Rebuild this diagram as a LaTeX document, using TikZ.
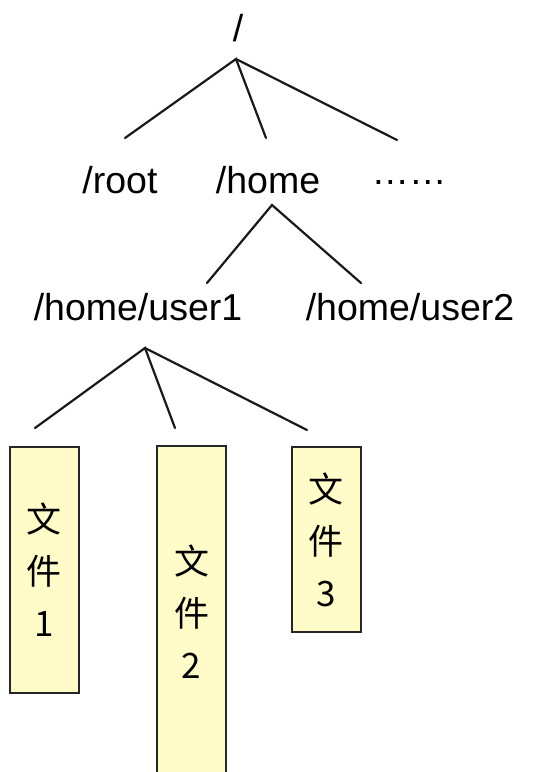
\documentclass[tikz,border=0pt]{standalone}
\usepackage{fontspec}
\setmainfont{Liberation Sans}
\newfontfamily\cjk{Noto Sans CJK SC}
\definecolor{filebg}{HTML}{FFFCCA}
\begin{document}
\begin{tikzpicture}[x=1pt,y=-1pt,
  dir/.style={inner sep=0pt, anchor=base, font=\fontsize{37.5}{44}\selectfont},
  branch/.style={line width=2.2pt, line cap=round, black!90},
  filebox/.style={draw=black!85, line width=2pt, fill=filebg, inner sep=0pt,
    minimum width=69pt, align=center,
    font=\cjk\fontsize{35}{52}\selectfont}]
\useasboundingbox (0,0) rectangle (539,772);

% directory names
\node[dir] (top)   at (238,41)  {/};
\node[dir] (root)  at (120,193) {/root};
\node[dir] (home)  at (268,193) {/home};
\node[dir] (more)  at (409,184) {……};
\node[dir] (user1) at (138,320) {/home/user1};
\node[dir] (user2) at (410,320) {/home/user2};

% files
\node[filebox, minimum height=246pt] (f1) at (44.5,570)  {文\\件\\1};
\node[filebox, minimum height=332pt] (f2) at (191.5,612) {文\\件\\2};
\node[filebox, minimum height=185pt] (f3) at (326,539.5) {文\\件\\3};

% branch points and branch ends
\coordinate (topJ)   at (236,59);
\coordinate (rootE)  at (125,138);
\coordinate (homeE)  at (266,138);
\coordinate (moreE)  at (397,140);
\coordinate (homeJ)  at (272,205);
\coordinate (u1E)    at (207,283);
\coordinate (u2E)    at (361,283);
\coordinate (u1J)    at (145,348);
\coordinate (f1E)    at (35,428);
\coordinate (f2E)    at (175,428);
\coordinate (f3E)    at (307,430);

\draw[branch] (rootE) -- (topJ) -- (homeE);
\draw[branch] (topJ) -- (moreE);
\draw[branch] (u1E) -- (homeJ) -- (u2E);
\draw[branch] (f1E) -- (u1J) -- (f2E);
\draw[branch] (u1J) -- (f3E);
\end{tikzpicture}
\end{document}
